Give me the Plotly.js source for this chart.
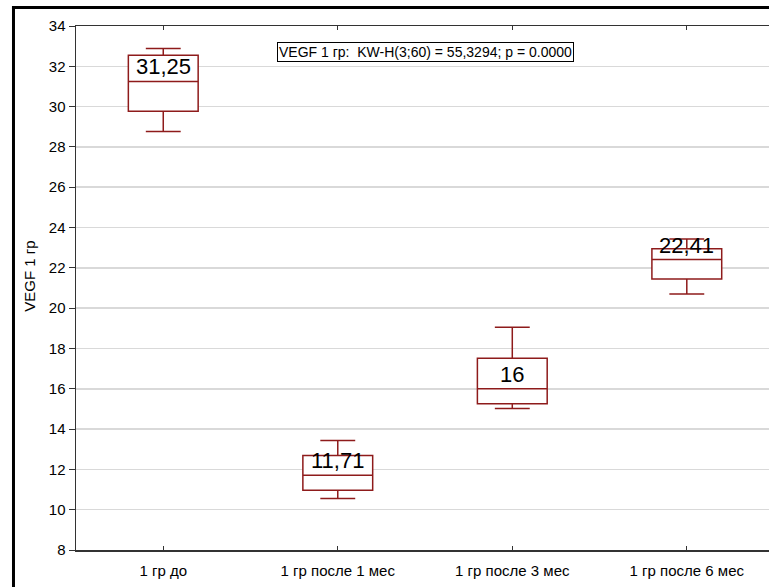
<!DOCTYPE html>
<html>
<head>
<meta charset="utf-8">
<script src="https://cdn.plot.ly/plotly-3.0.1.min.js"></script>
<style>
  html, body { margin: 0; padding: 0; background: #fff; }
  #chart { width: 769px; height: 587px; }
</style>
</head>
<body>
<div id="chart"></div>
<script>
// Groups and box statistics (VEGF, group 1, over time)
const groups = ['1 гр до', '1 гр после 1 мес', '1 гр после 3 мес', '1 гр после 6 мес'];
const medians = [31.25, 11.71, 16, 22.41];
const q1 = [29.77, 10.97, 15.26, 21.45];
const q3 = [32.55, 12.69, 17.51, 22.95];
const whiskerLow = [28.76, 10.55, 15.02, 20.70];
const whiskerHigh = [32.88, 13.43, 19.05, 23.43];
const yTicks = [8, 10, 12, 14, 16, 18, 20, 22, 24, 26, 28, 30, 32, 34];
const statText = 'VEGF 1 гр:\u00a0 KW-H(3;60) = 55,3294; p = 0.0000';

const FONT = 'Liberation Sans, Arial, sans-serif';
const BOX_COLOR = '#8e1b1b';

const trace = {
  type: 'box',
  x: groups,
  q1: q1,
  median: medians,
  q3: q3,
  lowerfence: whiskerLow,
  upperfence: whiskerHigh,
  boxpoints: false,
  width: 0.4,
  whiskerwidth: 0.5,
  fillcolor: '#ffffff',
  line: { color: BOX_COLOR, width: 1.5 },
  hoverinfo: 'skip',
  showlegend: false
};

// Median values written above each median line
const medianLabels = groups.map((g, i) => ({
  x: g,
  y: medians[i],
  xref: 'x',
  yref: 'y',
  text: String(medians[i]).replace('.', ','),
  showarrow: false,
  yanchor: 'bottom',
  xanchor: 'center',
  font: { family: FONT, size: 22, color: '#000' }
}));

const layout = {
  width: 769,
  height: 587,
  margin: { l: 76, r: 0, t: 26, b: 36.5 },
  paper_bgcolor: '#fff',
  plot_bgcolor: '#fff',
  font: { family: FONT, size: 15, color: '#000' },
  showlegend: false,
  xaxis: {
    type: 'category',
    range: [-0.5, 3.471],
    showgrid: false,
    zeroline: false,
    showline: true,
    linecolor: '#333',
    linewidth: 1.5,
    mirror: 'ticks',
    ticks: 'inside',
    ticklen: 4,
    tickcolor: '#333',
    ticklabelstandoff: 6,
    tickfont: { family: FONT, size: 15, color: '#000' }
  },
  yaxis: {
    range: [8, 34],
    tickvals: yTicks,
    ticktext: yTicks.map(String),
    showgrid: true,
    gridcolor: '#d9d9d9',
    gridwidth: 1.5,
    zeroline: false,
    showline: true,
    linecolor: '#333',
    linewidth: 1.5,
    ticks: 'outside',
    ticklen: 6,
    tickcolor: '#333',
    tickfont: { family: FONT, size: 15, color: '#000' }
  },
  annotations: medianLabels.concat([
    {
      xref: 'paper', yref: 'paper',
      x: -0.0664, y: 0.5234,
      text: 'VEGF 1 гр',
      textangle: -90,
      showarrow: false,
      xanchor: 'center', yanchor: 'middle',
      font: { family: FONT, size: 15, color: '#000' }
    },
    {
      xref: 'paper', yref: 'paper',
      x: (425.7 - 76) / 693, y: (550.5 - 52) / 524.5,
      text: statText,
      showarrow: false,
      xanchor: 'center', yanchor: 'middle',
      bgcolor: '#fff',
      bordercolor: '#000',
      borderwidth: 1,
      borderpad: 1,
      font: { family: FONT, size: 14, color: '#000' }
    }
  ]),
  shapes: [
    // outer frame (left and top edges)
    { type: 'line', xref: 'paper', yref: 'paper', x0: -0.0902, x1: -0.0902, y0: 1.0353, y1: -0.2, line: { color: '#000', width: 3 } },
    { type: 'line', xref: 'paper', yref: 'paper', x0: -0.0924, x1: 1.1, y0: 1.0353, y1: 1.0353, line: { color: '#000', width: 3 } }
  ]
};

Plotly.newPlot('chart', [trace], layout, { staticPlot: true, displayModeBar: false });
</script>
</body>
</html>
